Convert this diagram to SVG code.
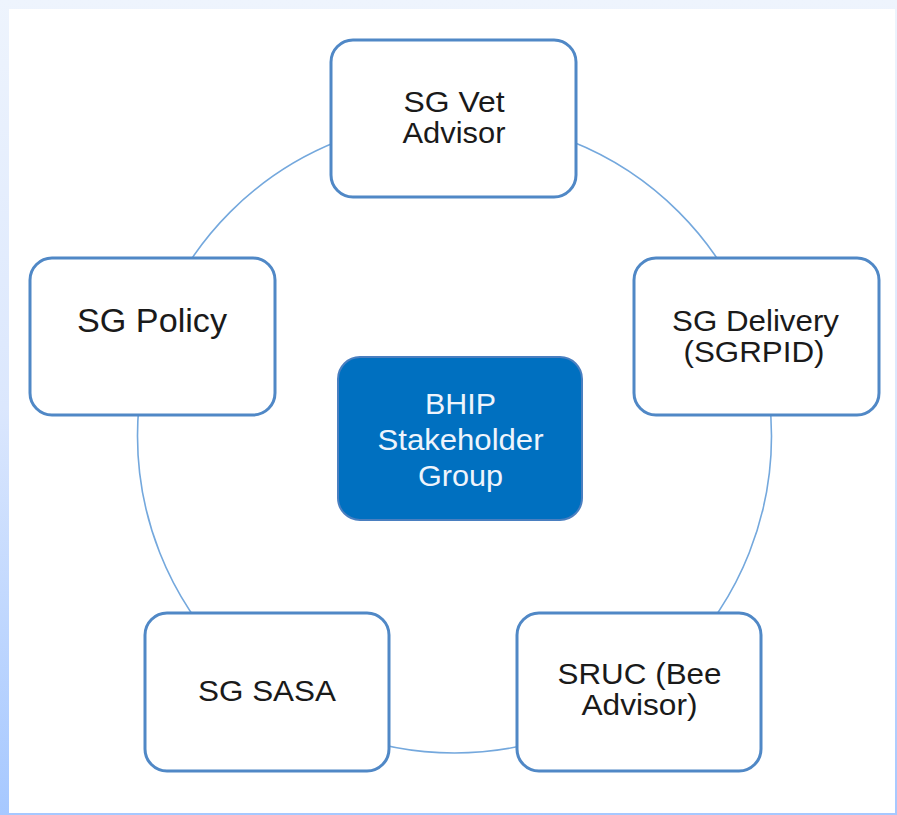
<svg xmlns="http://www.w3.org/2000/svg" width="897" height="815" viewBox="0 0 897 815">
  <defs>
    <linearGradient id="bg" x1="0" y1="0" x2="0" y2="1">
      <stop offset="0" stop-color="#eef4fd"/>
      <stop offset="0.5" stop-color="#dbe7fd"/>
      <stop offset="1" stop-color="#a6c8ff"/>
    </linearGradient>
  </defs>
  <style>
    .box { fill: #ffffff; stroke: #5088c6; stroke-width: 3; }
    .core { fill: #0070c0; stroke: #4a7fc0; stroke-width: 2; }
    .ring { fill: none; stroke: #74a8dd; stroke-width: 1.6; }
    .t { font-family: "Liberation Sans", Arial, sans-serif; font-size: 29px; fill: #1a1a1a; text-anchor: middle; }
    .w { fill: #eef4fc; font-size: 30px; }
  </style>
  <rect x="0" y="0" width="897" height="815" fill="url(#bg)"/>
  <rect x="9" y="9" width="886" height="804" fill="#ffffff"/>

  <g id="connectors">
    <circle class="ring" cx="454.5" cy="436" r="317"/>
  </g>

  <g id="node-vet">
    <rect class="box" x="331" y="40" width="245" height="157" rx="22"/>
    <text class="t" x="454" y="111.5" textLength="101" lengthAdjust="spacingAndGlyphs">SG Vet</text>
    <text class="t" x="454" y="143" textLength="103" lengthAdjust="spacingAndGlyphs">Advisor</text>
  </g>

  <g id="node-policy">
    <rect class="box" x="30" y="258" width="245" height="157" rx="22"/>
    <text class="t" x="152" y="331.5" style="font-size:33px" textLength="150" lengthAdjust="spacingAndGlyphs">SG Policy</text>
  </g>

  <g id="node-delivery">
    <rect class="box" x="634" y="258" width="245" height="157" rx="22"/>
    <text class="t" x="755.5" y="331" textLength="167" lengthAdjust="spacingAndGlyphs">SG Delivery</text>
    <text class="t" x="754" y="362" textLength="141" lengthAdjust="spacingAndGlyphs">(SGRPID)</text>
  </g>

  <g id="node-sasa">
    <rect class="box" x="145" y="613" width="244" height="158" rx="22"/>
    <text class="t" x="267" y="701" textLength="138" lengthAdjust="spacingAndGlyphs">SG SASA</text>
  </g>

  <g id="node-sruc">
    <rect class="box" x="517" y="613" width="244" height="158" rx="22"/>
    <text class="t" x="639.5" y="683.5" textLength="164" lengthAdjust="spacingAndGlyphs">SRUC (Bee</text>
    <text class="t" x="639.5" y="715" textLength="116" lengthAdjust="spacingAndGlyphs">Advisor)</text>
  </g>

  <g id="node-center">
    <rect class="core" x="338" y="357" width="244" height="163" rx="22"/>
    <text class="t w" x="460.5" y="413.5" textLength="71" lengthAdjust="spacingAndGlyphs">BHIP</text>
    <text class="t w" x="460.5" y="450" textLength="166" lengthAdjust="spacingAndGlyphs">Stakeholder</text>
    <text class="t w" x="460.5" y="485.5" textLength="85" lengthAdjust="spacingAndGlyphs">Group</text>
  </g>
</svg>
